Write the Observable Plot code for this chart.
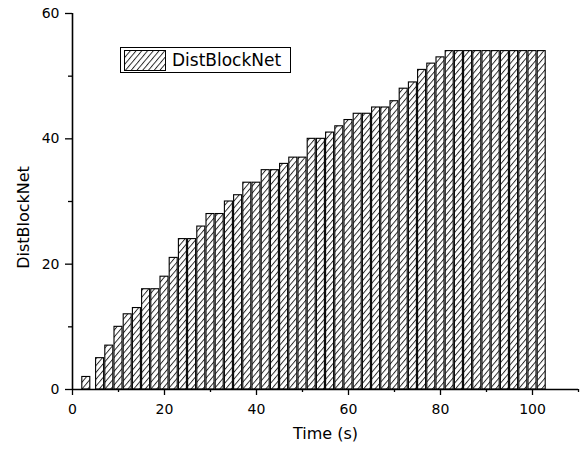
<!DOCTYPE html>
<html>
<head>
<meta charset="utf-8">
<script src="https://cdn.jsdelivr.net/npm/d3@7"></script>
<script src="https://cdn.jsdelivr.net/npm/@observablehq/plot@0.6"></script>
<style>
  html, body { margin: 0; padding: 0; background: #fff; }
  #chart { position: relative; width: 587px; height: 452px; }
</style>
</head>
<body>
<!-- shared hatch fill for the bars and the legend swatch -->
<svg width="0" height="0" style="position:absolute">
  <defs>
    <pattern id="hatch" patternUnits="userSpaceOnUse" width="4.4" height="4.4" patternTransform="rotate(40)">
      <rect width="4.4" height="4.4" fill="#fff"/>
      <line x1="0.5" y1="0" x2="0.5" y2="4.4" stroke="#1a1a1a" stroke-width="0.9"/>
    </pattern>
  </defs>
</svg>
<div id="chart"></div>
<script>
// Time stamps (s) and DistBlockNet values
const times = [3, 6, 8, 10, 12, 14, 16, 18, 20, 22,
               24, 26, 28, 30, 32, 34, 36, 38, 40, 42,
               44, 46, 48, 50, 52, 54, 56, 58, 60, 62,
               64, 66, 68, 70, 72, 74, 76, 78, 80, 82,
               84, 86, 88, 90, 92, 94, 96, 98, 100, 102];
const counts = [2, 5, 7, 10, 12, 13, 16, 16, 18, 21,
                24, 24, 26, 28, 28, 30, 31, 33, 33, 35,
                35, 36, 37, 37, 40, 40, 41, 42, 43, 44,
                44, 45, 45, 46, 48, 49, 51, 52, 53, 54,
                54, 54, 54, 54, 54, 54, 54, 54, 54, 54];
const seriesName = "DistBlockNet";
const xTitle = "Time (s)";
const yTitle = "DistBlockNet";
const xMajor = [0, 20, 40, 60, 80, 100];
const xMinor = [10, 30, 50, 70, 90, 110];
const yMajor = [0, 20, 40, 60];
const yMinor = [10, 30, 50];

const barHalfWidth = 0.87;
const rows = times.map((t, i) => ({time: t, count: counts[i]}));
const font = "'DejaVu Sans', sans-serif";

const chart = Plot.plot({
  width: 587,
  height: 452,
  marginLeft: 72,
  marginRight: 9,
  marginTop: 13,
  marginBottom: 63,
  style: {fontFamily: font, fontSize: "14px", color: "#000", background: "#fff"},
  x: {domain: [0, 110]},
  y: {domain: [0, 60]},
  marks: [
    Plot.rectY(rows, {
      x1: d => d.time - barHalfWidth,
      x2: d => d.time + barHalfWidth,
      y: "count",
      fill: "url(#hatch)",
      stroke: "#000",
      strokeWidth: 1.1
    }),
    Plot.axisX(xMajor, {tickSize: 6, tickPadding: 9, label: null, stroke: "#000", strokeWidth: 1.3}),
    Plot.axisX(xMinor, {tickSize: 3, tickFormat: () => "", label: null, stroke: "#000", strokeWidth: 1.3}),
    Plot.axisY(yMajor, {tickSize: 7, tickPadding: 6, label: null, stroke: "#000", strokeWidth: 1.3}),
    Plot.axisY(yMinor, {tickSize: 4, tickFormat: () => "", label: null, stroke: "#000", strokeWidth: 1.3}),
    Plot.ruleY([0], {stroke: "#000", strokeWidth: 1.6}),
    Plot.ruleX([0], {stroke: "#000", strokeWidth: 1.6}),
    Plot.text([xTitle], {text: d => d, frameAnchor: "bottom", dy: 49, fontSize: 16, fill: "#000"}),
    Plot.text([yTitle], {
      text: d => d, frameAnchor: "left", textAnchor: "middle", rotate: -90,
      dx: -49, dy: 16, fontSize: 16, fill: "#000"
    })
  ]
});

document.getElementById("chart").appendChild(chart);

// legend: framed box with a hatched swatch and the series name
const svg = d3.select(chart);
const legend = svg.append("g").attr("class", "legend");
legend.append("rect")
  .attr("x", 120.5).attr("y", 47.5).attr("width", 170).attr("height", 25)
  .attr("fill", "#fff").attr("stroke", "#000").attr("stroke-width", 1);
legend.append("rect")
  .attr("x", 124.5).attr("y", 50.5).attr("width", 41).attr("height", 20)
  .attr("fill", "url(#hatch)").attr("stroke", "#000").attr("stroke-width", 1);
legend.append("text")
  .attr("x", 172).attr("y", 66)
  .attr("text-anchor", "start")
  .attr("font-family", font).attr("font-size", 17).attr("fill", "#000")
  .text(seriesName);
</script>
</body>
</html>
